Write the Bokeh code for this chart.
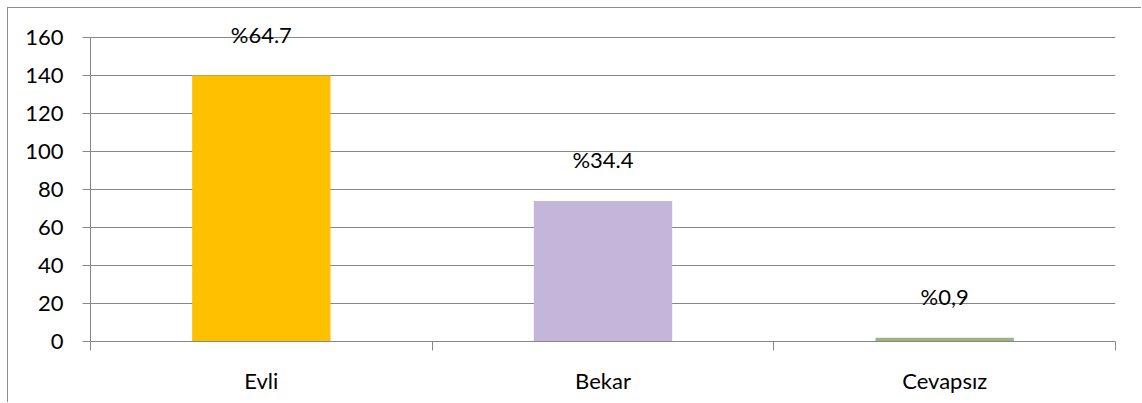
from bokeh.plotting import figure
from bokeh.models import Range1d, FixedTicker, ColumnDataSource, LabelSet
from bokeh.core.properties import value
from bokeh.embed import file_html
from bokeh.resources import INLINE

categories = ["Evli", "Bekar", "Cevapsız"]
counts = [140, 74, 2]
pct_labels = ["%64.7", "%34.4", "%0,9"]
colors = ["#FFC000", "#C4B5DA", "#9DB382"]
y_ticks = [0, 20, 40, 60, 80, 100, 120, 140, 160]
y_axis_max = 160
y_headroom = 170  # room above the axis so the top label is not clipped

FONT = "Lato"
GRID = "#878787"

xs = [i + 0.5 for i in range(len(categories))]
src = ColumnDataSource(dict(x=xs, top=counts, label=pct_labels, color=colors))

p = figure(width=1134, height=395, output_backend="svg", toolbar_location=None,
           x_range=Range1d(0, len(categories)), y_range=Range1d(0, y_headroom),
           min_border_left=82, min_border_right=27, min_border_top=10, min_border_bottom=62)
p.styles = {"margin-left": "7px", "margin-top": "7px",
            "border-left": "1px solid #8c8c8c", "border-top": "1px solid #8c8c8c"}
p.outline_line_color = None
p.background_fill_color = "white"
p.border_fill_color = "white"

p.vbar(x="x", top="top", width=0.405, bottom=0, color="color", source=src, line_color=None)
labels = LabelSet(x="x", y="top", text="label", source=src, y_offset=41, text_align="center",
                  text_baseline="middle", text_font=value(FONT), text_font_size="22px",
                  text_color="#000000")
p.add_layout(labels)

p.xgrid.grid_line_color = None
p.ygrid.grid_line_color = GRID
p.ygrid.grid_line_width = 1
p.ygrid.ticker = FixedTicker(ticks=y_ticks)

ya = p.yaxis[0]
ya.ticker = FixedTicker(ticks=y_ticks)
ya.bounds = (0, y_axis_max)
ya.axis_line_color = GRID
ya.major_tick_line_color = GRID
ya.major_tick_out = 8
ya.major_tick_in = 0
ya.minor_tick_line_color = None
ya.major_label_standoff = 19
ya.major_label_text_font = FONT
ya.major_label_text_font_size = "22px"
ya.major_label_text_color = "#000000"

xa = p.xaxis[0]
xa.ticker = FixedTicker(ticks=xs, minor_ticks=list(range(len(categories) + 1)))
xa.major_label_overrides = {x: c for x, c in zip(xs, categories)}
xa.axis_line_color = GRID
xa.major_tick_line_color = None
xa.major_tick_out = 0
xa.major_tick_in = 0
xa.minor_tick_line_color = GRID
xa.minor_tick_out = 9
xa.minor_tick_in = 0
xa.major_label_standoff = 16
xa.major_label_text_font = FONT
xa.major_label_text_font_size = "22px"
xa.major_label_text_color = "#000000"

open("out.html", "w").write(file_html(p, INLINE))
